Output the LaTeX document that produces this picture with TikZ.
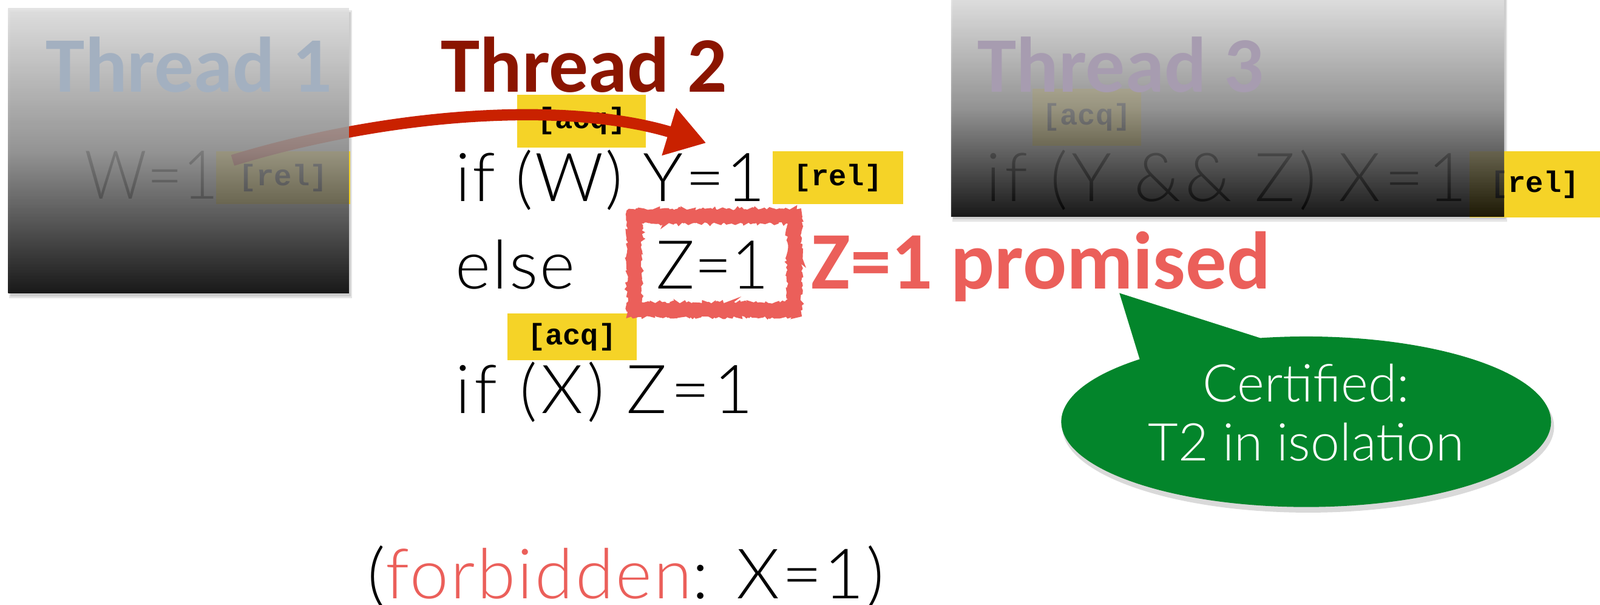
\documentclass[tikz,border=0pt]{standalone}
\usepackage{fontspec}
\setmainfont{Lato}[UprightFont=* Light]
\newfontfamily\codef{Lato}[UprightFont=* Light, LetterSpace=3]
\newfontfamily\codefw{Lato}[UprightFont=* Light, LetterSpace=6]
\newfontfamily\carl{Carlito}
\newfontfamily\monof{Liberation Mono}
\usetikzlibrary{arrows.meta,shapes.callouts,decorations.pathmorphing}
\definecolor{tagyellow}{HTML}{F5D327}
\definecolor{promred}{HTML}{EB5F5A}
\definecolor{arrred}{HTML}{C92100}
\definecolor{ttwored}{HTML}{8B1500}
\definecolor{tonecol}{HTML}{A3B0C0}
\definecolor{tthreecol}{HTML}{A79CB0}
\definecolor{bubgreen}{HTML}{03852B}
\begin{document}
\begin{tikzpicture}[x=1pt,y=-1pt,
  code/.style={font=\codef\fontsize{66}{70}\selectfont, inner sep=0, anchor=base west},
  codetight/.style={code, font=\normalfont\fontsize{66}{70}\selectfont},
  codewide/.style={code, font=\codefw\fontsize{66}{70}\selectfont},
  title/.style={font=\carl\bfseries\fontsize{77}{80}\selectfont, inner sep=0, anchor=base west},
  tag/.style={fill=tagyellow, inner sep=0, font=\monof\bfseries\fontsize{29}{30}\selectfont, minimum height=52pt},
  overlay/.style={top color=black!12, bottom color=black, middle color=black!45, fill opacity=0.88, draw=none},
  shadowbox/.style={fill=black, opacity=0.10, draw=none}]
\fill[white] (0,0) rectangle (1568,592);
\useasboundingbox (0,0) rectangle (1568,592);
% shadows of thread boxes
\fill[shadowbox] (9,10) rectangle (345,292);
\fill[shadowbox] (10,12) rectangle (344,290);
\fill[shadowbox] (933,0) rectangle (1477,217);
\fill[shadowbox] (934,0) rectangle (1476,215);
% tags
\node[tag, minimum width=131pt] (t1rel) at (277.5,174) {[rel]};
\node[tag, minimum width=126pt] (t2acq) at (570,118.5) {[acq]};
\node[tag, minimum width=128pt] (t2rel) at (821,174) {[rel]};
\node[tag, minimum width=127pt, minimum height=46pt] (t2acqb) at (560.5,330) {[acq]};
\node[tag, minimum width=106pt, minimum height=56pt] (t3acq) at (1065,115) {[acq]};
\node[tag, minimum width=128pt, minimum height=65pt] (t3rel) at (1504,180.5) {[rel]};
% code
\node[codetight] (w1) at (83,195) {\scalebox{0.91}[1]{W=1}};
\node[code] (l1) at (446,197) {if (W) Y=1};
\node[code] (l2) at (446,283) {else};
\node[codetight] (z1) at (643,283) {\scalebox{0.95}[1]{Z=1}};
\node[codewide] (l3) at (446,405) {if (X) Z=1};
\node[codewide] (t3l) at (966,197) {if (Y \&\& Z) X=1};
% arrow
\coordinate (arrS) at (228,157);
\coordinate (arrE) at (692,140);
\draw[arrred, line width=11pt, -{Triangle[length=38pt,width=46pt]}] (arrS) .. controls (390,108) and (560,100) .. (arrE);
% overlays
\shade[overlay] (8,8) rectangle (342,287);
\shade[overlay] (932,-2) rectangle (1474,212);
% titles
\node[title, text=tonecol] (th1) at (45,90) {Thread 1};
\node[title, text=ttwored] (th2) at (432,90) {Thread 2};
\node[title, text=tthreecol] (th3) at (958,90) {Thread 3};
% rough box
\draw[promred, line width=11pt] (622,212) rectangle (778,303);
\draw[promred, line width=5pt, decorate, decoration={random steps, segment length=2pt, amplitude=1.5pt}] (617,207) rectangle (783,308);
\draw[promred, line width=4pt, decorate, decoration={random steps, segment length=2pt, amplitude=1.5pt}] (627,217) rectangle (773,298);
\node[font=\carl\bfseries\fontsize{80}{82}\selectfont, text=promred, anchor=base west, inner sep=0] (prom) at (795,283) {Z=1 promised};
% bubble
\coordinate (bubtip) at (1097,287);
\coordinate (bubtipsh) at (1100,292);
\node[ellipse callout, fill=black, opacity=0.15, minimum width=482pt, minimum height=168pt, callout absolute pointer={(bubtipsh)}, callout pointer arc=32, inner sep=0] (bubsh) at (1282,418) {};
\node[ellipse callout, fill=bubgreen, minimum width=480pt, minimum height=167pt, callout absolute pointer={(bubtip)}, callout pointer arc=32, inner sep=0] (bub) at (1280,413) {};
\node[font=\fontsize{51}{58}\selectfont, text=white, align=center, inner sep=0] (bubtxt) at (1280,404) {Certified:\\T2 in isolation};
% forbidden
\node[code, font=\codef\fontsize{68}{70}\selectfont] (forb) at (360,586) {(\textcolor{promred}{forbidden}: X=1)};
\end{tikzpicture}
\end{document}
